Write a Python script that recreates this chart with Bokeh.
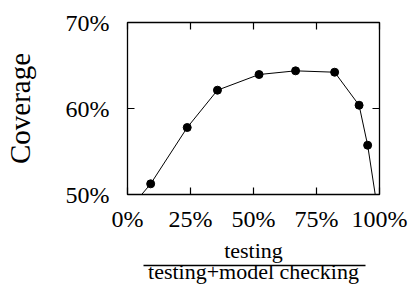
from bokeh.plotting import figure
from bokeh.models import LinearAxis, FixedTicker, ColumnDataSource, CustomJSTickFormatter
from bokeh.embed import file_html
from bokeh.resources import INLINE

# data (percent)
share_testing = [0.0, 9.2, 23.7, 35.7, 52.2, 66.7, 82.2, 91.9, 95.3, 100.0]
coverage = [48.05, 51.24, 57.79, 62.13, 63.95, 64.38, 64.22, 60.38, 55.73, 46.75]
x_ticks = [0, 25, 50, 75, 100]
x_tick_labels = ["0%", "25%", "50%", "75%", "100%"]
y_ticks = [50, 60, 70]
y_tick_labels = ["50%", "60%", "70%"]
y_title = "Coverage"
frac_num = "testing"
frac_den = "testing+model checking"

FONT = "Liberation Serif"
W, H = 411, 286

p = figure(width=W, height=H, x_range=(0, 100), y_range=(50, 70),
           output_backend="svg", toolbar_location=None,
           min_border_left=125, min_border_right=32, min_border_top=22, min_border_bottom=92,
           x_axis_location=None, y_axis_location=None)
p.xgrid.visible = False
p.ygrid.visible = False
p.outline_line_color = "black"
p.outline_line_width = 1.3
p.background_fill_color = "white"
p.border_fill_color = "white"

def style_axis(ax, ticks, labels, show_labels):
    ax.ticker = FixedTicker(ticks=ticks)
    ax.axis_line_color = None
    ax.major_tick_in = 7
    ax.major_tick_out = 0
    ax.major_tick_line_color = "black"
    ax.major_tick_line_width = 1.2
    ax.minor_tick_line_color = None
    ax.major_label_text_font = FONT
    ax.major_label_text_color = "black"
    ax.major_label_text_font_size = "24px"
    if show_labels:
        ax.major_label_overrides = {t: l for t, l in zip(ticks, labels)}
    else:
        ax.formatter = CustomJSTickFormatter(code="return ''")
        ax.major_label_standoff = 0

# bottom axis: tick labels + numerator of the fraction title
xb = LinearAxis()
style_axis(xb, x_ticks, x_tick_labels, True)
xb.major_label_standoff = 11
xb.axis_label = frac_num
xb.axis_label_text_font = FONT
xb.axis_label_text_font_size = "22px"
xb.axis_label_text_font_style = "normal"
xb.axis_label_text_color = "black"
xb.axis_label_standoff = 3
p.add_layout(xb, "below")

# second bottom axis: fraction bar (axis line) + denominator
xf = LinearAxis(ticker=FixedTicker(ticks=[]), bounds=(6.3, 94.5))
xf.axis_line_color = "black"
xf.axis_line_width = 1.5
xf.major_tick_line_color = None
xf.minor_tick_line_color = None
xf.major_label_standoff = 0
xf.axis_label = frac_den
xf.axis_label_text_font = FONT
xf.axis_label_text_font_size = "22px"
xf.axis_label_text_font_style = "normal"
xf.axis_label_text_color = "black"
xf.axis_label_standoff = -7
p.add_layout(xf, "below")

xa = LinearAxis()
style_axis(xa, x_ticks, x_tick_labels, False)
p.add_layout(xa, "above")

yl = LinearAxis()
style_axis(yl, y_ticks, y_tick_labels, True)
yl.major_label_standoff = 18
yl.axis_label = y_title
yl.axis_label_text_font = FONT
yl.axis_label_text_font_size = "29px"
yl.axis_label_text_font_style = "normal"
yl.axis_label_text_color = "black"
yl.axis_label_standoff = 27
p.add_layout(yl, "left")

yr = LinearAxis()
style_axis(yr, y_ticks, y_tick_labels, False)
p.add_layout(yr, "right")

src = ColumnDataSource(dict(x=share_testing, y=coverage))
p.line("x", "y", source=src, line_color="black", line_width=1)
p.scatter("x", "y", source=src, size=8, fill_color="black", line_color="black")

open("out.html", "w").write(file_html(p, INLINE))
